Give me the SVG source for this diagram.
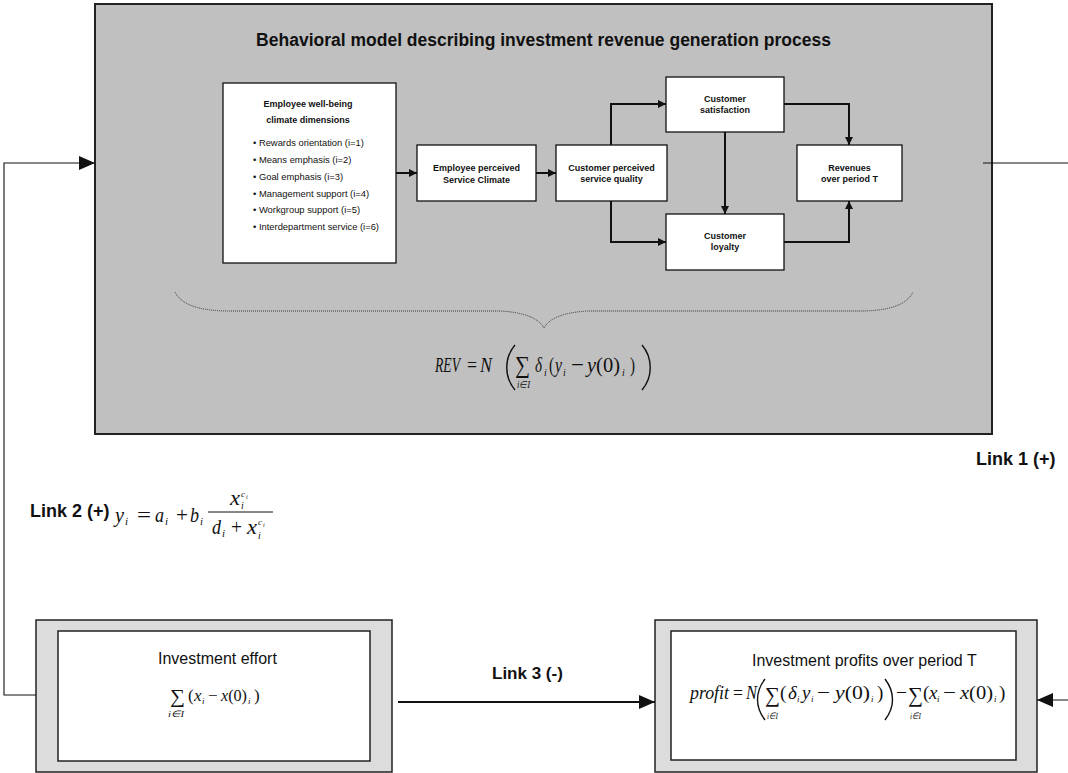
<svg xmlns="http://www.w3.org/2000/svg" width="1068" height="773" viewBox="0 0 1068 773">
<style>
.sans{font-family:"Liberation Sans",Arial,sans-serif;fill:#111}
.b{font-weight:bold}
.node{fill:#fff;stroke:#111;stroke-width:1.3}
.nt{font-family:"Liberation Sans",Arial,sans-serif;font-weight:bold;font-size:9px;fill:#111;text-anchor:middle}
.li{font-family:"Liberation Sans",Arial,sans-serif;font-size:9.4px;fill:#111}
.m{font-family:"Liberation Serif","Times New Roman",serif;fill:#111}
.it{font-style:italic}
.flow{fill:none;stroke:#111;stroke-width:2}
.thin{fill:none;stroke:#111;stroke-width:1.1}
.par{fill:none;stroke:#111;stroke-width:1.4}
</style>
<defs>
<marker id="a" markerUnits="userSpaceOnUse" markerWidth="8" markerHeight="8" refX="8" refY="4" orient="auto"><path d="M0,0 L8,4 L0,8 z" fill="#111"/></marker>
<marker id="big" markerUnits="userSpaceOnUse" markerWidth="16" markerHeight="14" refX="16" refY="7" orient="auto"><path d="M0,0 L16,7 L0,14 z" fill="#111"/></marker>
</defs>
<rect width="1068" height="773" fill="#fff"/>

<g id="behavioral-model">
<rect x="95" y="4" width="897" height="430" fill="#c0c0c0" stroke="#222" stroke-width="2"/>
<text class="sans b" x="543.5" y="46" font-size="17.5" text-anchor="middle">Behavioral model describing investment revenue generation process</text>
</g>

<g id="wellbeing">
<rect class="node" x="223" y="83" width="173" height="180"/>
<text class="nt" x="308" y="107">Employee well-being</text>
<text class="nt" x="308" y="123">climate dimensions</text>
<text class="li" x="253" y="146">• Rewards orientation (i=1)</text>
<text class="li" x="253" y="163">• Means emphasis (i=2)</text>
<text class="li" x="253" y="180">• Goal emphasis (i=3)</text>
<text class="li" x="253" y="197">• Management support (i=4)</text>
<text class="li" x="253" y="213">• Workgroup support (i=5)</text>
<text class="li" x="253" y="230">• Interdepartment service (i=6)</text>
</g>

<g id="emp-service-climate">
<rect class="node" x="417" y="145" width="119" height="56"/>
<text class="nt" x="476.5" y="171">Employee perceived</text>
<text class="nt" x="476.5" y="183">Service Climate</text>
</g>

<g id="cust-service-quality">
<rect class="node" x="556" y="145" width="111" height="56"/>
<text class="nt" x="611.5" y="171">Customer perceived</text>
<text class="nt" x="611.5" y="182">service quality</text>
</g>

<g id="cust-satisfaction">
<rect class="node" x="666" y="77" width="118" height="55"/>
<text class="nt" x="725" y="102">Customer</text>
<text class="nt" x="725" y="113">satisfaction</text>
</g>

<g id="cust-loyalty">
<rect class="node" x="666" y="214" width="118" height="56"/>
<text class="nt" x="725" y="239">Customer</text>
<text class="nt" x="725" y="250">loyalty</text>
</g>

<g id="revenues">
<rect class="node" x="797" y="145" width="105" height="56"/>
<text class="nt" x="849.5" y="171">Revenues</text>
<text class="nt" x="849.5" y="182">over period T</text>
</g>

<g id="rev-formula">
<path d="M175,292 Q184,311 230,311 L500,311 Q536,313 544,328 Q552,313 588,311 L860,311 Q904,311 913,292" fill="none" stroke="#333" stroke-width="1" stroke-dasharray="1,1"/>
<text class="m it" x="435" y="372" font-size="22" textLength="25" lengthAdjust="spacingAndGlyphs">REV</text>
<text class="m" x="467" y="372" font-size="22" textLength="10" lengthAdjust="spacingAndGlyphs">=</text>
<text class="m it" x="480" y="372" font-size="22" textLength="12" lengthAdjust="spacingAndGlyphs">N</text>
<path class="par" d="M515,345 C504,358 504,377 515,390"/>
<text class="m" x="515" y="373" font-size="24" textLength="15" lengthAdjust="spacingAndGlyphs">∑</text>
<text class="m it" x="517" y="388" font-size="10" textLength="13" lengthAdjust="spacingAndGlyphs">i∈I</text>
<text class="m it" x="535" y="372" font-size="22" textLength="7" lengthAdjust="spacingAndGlyphs">δ</text>
<text class="m it" x="544" y="376" font-size="10">i</text>
<text class="m" x="549" y="372" font-size="22" textLength="5" lengthAdjust="spacingAndGlyphs">(</text>
<text class="m it" x="555" y="372" font-size="22" textLength="7" lengthAdjust="spacingAndGlyphs">y</text>
<text class="m it" x="563" y="376" font-size="10">i</text>
<text class="m" x="571" y="372" font-size="22" textLength="13" lengthAdjust="spacingAndGlyphs">−</text>
<text class="m it" x="587" y="372" font-size="22" textLength="33" lengthAdjust="spacingAndGlyphs">y<tspan font-style="normal">(0)</tspan></text>
<text class="m it" x="622" y="376" font-size="10">i</text>
<text class="m" x="630" y="372" font-size="22" textLength="5" lengthAdjust="spacingAndGlyphs">)</text>
<path class="par" d="M642,345 C653,358 653,377 642,390"/>
</g>

<g id="investment-effort">
<rect x="36" y="620" width="356" height="152" fill="#dcdcdc" stroke="#222" stroke-width="1.5"/>
<rect x="58" y="631" width="312" height="130" fill="#fff" stroke="#222" stroke-width="1.5"/>
<text class="sans" x="158" y="664" font-size="16">Investment effort</text>
<text class="m" x="170" y="703" font-size="20" textLength="15" lengthAdjust="spacingAndGlyphs">∑</text>
<text class="m it" x="168" y="717" font-size="9" textLength="16" lengthAdjust="spacingAndGlyphs">i∈I</text>
<text class="m" x="188" y="701" font-size="17">(</text>
<text class="m it" x="194" y="701" font-size="17">x</text>
<text class="m it" x="202" y="704" font-size="9">i</text>
<text class="m" x="208" y="701" font-size="17">−</text>
<text class="m it" x="221" y="701" font-size="17" textLength="26" lengthAdjust="spacingAndGlyphs">x<tspan font-style="normal">(0)</tspan></text>
<text class="m it" x="248" y="704" font-size="9">i</text>
<text class="m" x="254" y="701" font-size="17">)</text>
</g>

<g id="investment-profits">
<rect x="655" y="620" width="382" height="152" fill="#dcdcdc" stroke="#222" stroke-width="1.5"/>
<rect x="671" y="631" width="345" height="129" fill="#fff" stroke="#222" stroke-width="1.5"/>
<text class="sans" x="752" y="666" font-size="16">Investment profits over period T</text>
<text class="m it" x="690" y="699" font-size="19" textLength="39" lengthAdjust="spacingAndGlyphs">profit</text>
<text class="m" x="733" y="699" font-size="19" textLength="10" lengthAdjust="spacingAndGlyphs">=</text>
<text class="m it" x="746" y="699" font-size="19" textLength="11" lengthAdjust="spacingAndGlyphs">N</text>
<path class="par" d="M765,679 C755,692 755,707 765,720"/>
<text class="m" x="765" y="702" font-size="21" textLength="15" lengthAdjust="spacingAndGlyphs">∑</text>
<text class="m it" x="767" y="719" font-size="9" textLength="11" lengthAdjust="spacingAndGlyphs">i∈I</text>
<text class="m" x="780" y="699" font-size="19">(</text>
<text class="m it" x="788" y="699" font-size="19">δ</text>
<text class="m it" x="797" y="702" font-size="9">i</text>
<text class="m it" x="802" y="699" font-size="19">y</text>
<text class="m it" x="811" y="702" font-size="9">i</text>
<text class="m" x="817" y="699" font-size="19" textLength="13" lengthAdjust="spacingAndGlyphs">−</text>
<text class="m it" x="835" y="699" font-size="19" textLength="35" lengthAdjust="spacingAndGlyphs">y<tspan font-style="normal">(0)</tspan></text>
<text class="m it" x="871" y="702" font-size="9">i</text>
<text class="m" x="877" y="699" font-size="19">)</text>
<path class="par" d="M885,679 C895,692 895,707 885,720"/>
<text class="m" x="896" y="699" font-size="19" textLength="11" lengthAdjust="spacingAndGlyphs">−</text>
<text class="m" x="908" y="702" font-size="21" textLength="15" lengthAdjust="spacingAndGlyphs">∑</text>
<text class="m it" x="910" y="719" font-size="9" textLength="11" lengthAdjust="spacingAndGlyphs">i∈I</text>
<text class="m" x="923" y="699" font-size="19">(</text>
<text class="m it" x="929" y="699" font-size="19">x</text>
<text class="m it" x="937" y="702" font-size="9">i</text>
<text class="m" x="943" y="699" font-size="19" textLength="13" lengthAdjust="spacingAndGlyphs">−</text>
<text class="m it" x="960" y="699" font-size="19" textLength="33" lengthAdjust="spacingAndGlyphs">x<tspan font-style="normal">(0)</tspan></text>
<text class="m it" x="994" y="702" font-size="9">i</text>
<text class="m" x="999" y="699" font-size="19">)</text>
</g>

<g id="connectors">
<path class="flow" d="M396,173 H417" marker-end="url(#a)"/>
<path class="flow" d="M536,173 H556" marker-end="url(#a)"/>
<path class="flow" d="M611,145 V104 H666" marker-end="url(#a)"/>
<path class="flow" d="M611,201 V242 H666" marker-end="url(#a)"/>
<path class="flow" d="M725,132 V214" marker-end="url(#a)"/>
<path class="flow" d="M784,104 H849 V145" marker-end="url(#a)"/>
<path class="flow" d="M784,242 H849 V201" marker-end="url(#a)"/>
<path class="thin" d="M983,163 H1070 V700 H1037" marker-end="url(#big)"/>
<path class="thin" d="M36,695 H4 V163 H95" marker-end="url(#big)"/>
<path class="flow" d="M398,702 H655" marker-end="url(#big)"/>
</g>

<g id="labels">
<text class="sans b" x="976" y="465" font-size="18">Link 1 (+)</text>
<text class="sans b" x="30" y="517" font-size="18">Link 2 (+)</text>
<text class="sans b" x="492" y="679" font-size="17">Link 3 (-)</text>
</g>

<g id="link2-formula">
<text class="m it" x="115" y="522" font-size="22" textLength="9" lengthAdjust="spacingAndGlyphs">y</text>
<text class="m it" x="125" y="525" font-size="11">i</text>
<text class="m" x="137" y="522" font-size="22" textLength="14" lengthAdjust="spacingAndGlyphs">=</text>
<text class="m it" x="155" y="522" font-size="22" textLength="9" lengthAdjust="spacingAndGlyphs">a</text>
<text class="m it" x="165" y="525" font-size="11">i</text>
<text class="m" x="176" y="522" font-size="22" textLength="12" lengthAdjust="spacingAndGlyphs">+</text>
<text class="m it" x="190" y="522" font-size="22" textLength="9" lengthAdjust="spacingAndGlyphs">b</text>
<text class="m it" x="200" y="525" font-size="11">i</text>
<line x1="208" y1="512" x2="273" y2="512" stroke="#111" stroke-width="1"/>
<text class="m it" x="230" y="505" font-size="20" textLength="10" lengthAdjust="spacingAndGlyphs">x</text>
<text class="m it" x="241" y="497" font-size="9">c</text>
<text class="m it" x="246" y="499" font-size="6">i</text>
<text class="m it" x="241" y="509" font-size="10">i</text>
<text class="m it" x="212" y="534" font-size="22" textLength="9" lengthAdjust="spacingAndGlyphs">d</text>
<text class="m it" x="222" y="537" font-size="11">i</text>
<text class="m" x="231" y="534" font-size="22" textLength="11" lengthAdjust="spacingAndGlyphs">+</text>
<text class="m it" x="247" y="534" font-size="20" textLength="10" lengthAdjust="spacingAndGlyphs">x</text>
<text class="m it" x="258" y="525" font-size="9">c</text>
<text class="m it" x="263" y="527" font-size="6">i</text>
<text class="m it" x="258" y="539" font-size="10">i</text>
</g>
</svg>
